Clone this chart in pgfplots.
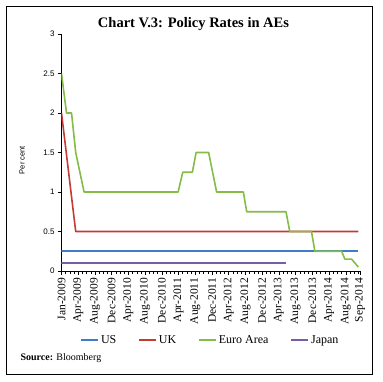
\documentclass[border=0pt]{standalone}
\usepackage{fontspec}
\setmainfont{Liberation Serif}
\newfontfamily\ysans{Liberation Sans}
\usepackage{pgfplots}
\pgfplotsset{compat=1.18}
\definecolor{usblue}{RGB}{61,124,201}
\definecolor{ukred}{RGB}{196,59,53}
\definecolor{eugreen}{RGB}{132,189,70}
\definecolor{jppurple}{RGB}{122,91,166}
\begin{document}
\begin{tikzpicture}[x=1pt,y=1pt]
\useasboundingbox (-61.5,-110) rectangle (321.5,271);
\draw[line width=0.9pt] (-55.5,-103) rectangle (310.5,265);
\node[font=\bfseries\fontsize{14.5}{16}\selectfont] at (132,247) {Chart V.3: Policy Rates in AEs};
\node[anchor=west,font=\fontsize{10}{12}\selectfont] at (-44.5,-87) {\textbf{Source:} Bloomberg};
\begin{axis}[
  at={(0,0)}, anchor=south west, scale only axis,
  width=298.5pt, height=237pt,
  xmin=0, xmax=71.4, ymin=0, ymax=3,
  axis lines=left, axis line style={-, line width=0.6pt, black},
  xtick={0,4,8,12,16,20,24,28,32,36,40,44,48,52,56,60,64,68,71.4},
  xticklabels={Jan-2009,Apr-2009,Aug-2009,Dec-2009,Apr-2010,Aug-2010,Dec-2010,Apr-2011,Aug-2011,Dec-2011,Apr-2012,Aug-2012,Dec-2012,Apr-2013,Aug-2013,Dec-2013,Apr-2014,Aug-2014,Sep-2014},
  minor xtick={1,...,71},
  ytick={0,0.5,1,1.5,2,2.5,3}, yticklabels={0,0.5,1,1.5,2,2.5,3},
  tick align=outside, major tick length=3.5pt, minor tick length=3pt,
  every tick/.style={black, line width=0.5pt},
  xticklabel style={rotate=90, anchor=east, font=\fontsize{11.5}{12}\selectfont},
  yticklabel style={font=\ysans\fontsize{8}{9}\selectfont},
  ylabel={Per cent},
  ylabel style={at={(axis description cs:-0.1323,0.468)}, anchor=center, font=\ysans\fontsize{7.5}{8}\selectfont},
  legend columns=4,
  legend style={at={(0.499,-0.291)}, anchor=center, draw=none, fill=none,
    font=\fontsize{12}{13}\selectfont,
    /tikz/every even column/.append style={column sep=20pt}},
  legend image code/.code={\draw[#1] (0pt,0pt) -- (17pt,0pt);},
]
\addplot[draw=usblue, line width=1.6pt] coordinates {(0,0.25) (71,0.25)};
\addlegendentry{US}
\addplot[draw=ukred, line width=1.6pt, line join=round] coordinates {(0,2) (3.4,0.5) (71,0.5)};
\addlegendentry{UK}
\addplot[draw=eugreen, line width=1.6pt, line join=round] coordinates {(0,2.5) (1.2,2) (2.4,2) (3.4,1.5) (5.4,1) (27.9,1) (29,1.25) (31.3,1.25) (32.2,1.5) (35.2,1.5) (37.1,1) (43.5,1) (44.3,0.75) (53.7,0.75) (54.6,0.5) (59.8,0.5) (60.6,0.25) (67,0.25) (67.8,0.15) (69.4,0.15) (71,0.05)};
\addlegendentry{Euro Area}
\addplot[draw=jppurple, line width=1.6pt] coordinates {(0,0.1) (53.7,0.1)};
\addlegendentry{Japan}
\end{axis}
\end{tikzpicture}
\end{document}
